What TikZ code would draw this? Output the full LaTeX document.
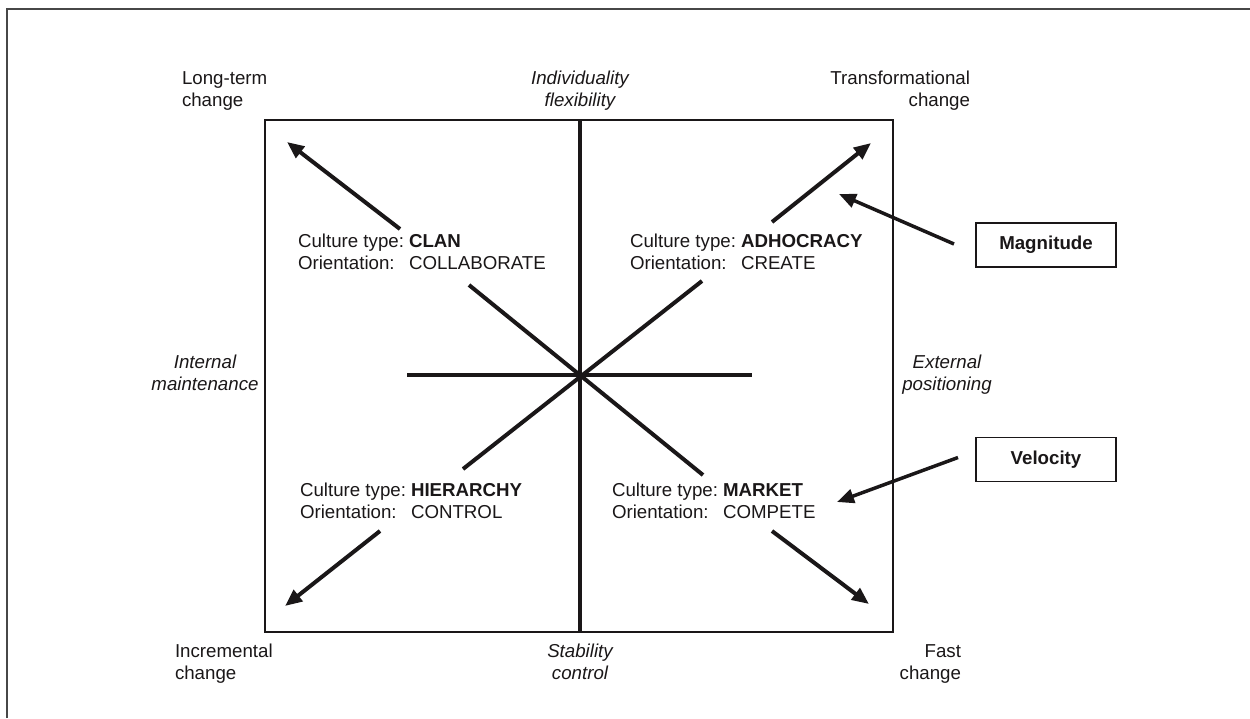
\documentclass[tikz,border=0pt]{standalone}
\usepackage{fontspec}
\setmainfont{Liberation Sans}
\usetikzlibrary{arrows.meta}
\definecolor{ink}{HTML}{1A1718}
\begin{document}
\begin{tikzpicture}[x=1pt,y=-1pt,
  every node/.style={inner sep=0pt, outer sep=0pt, text=ink, font=\fontsize{18.7}{22}\selectfont},
  lbl/.style={anchor=base west},
  rlbl/.style={anchor=base east},
  clbl/.style={anchor=base},
  axisline/.style={line width=4.5pt, draw=ink},
  arr/.style={line width=4pt, draw=ink, -{Triangle[length=17pt,width=14pt]}},
  thinarr/.style={line width=3.5pt, draw=ink, -{Triangle[length=17pt,width=14pt]}},
  keybox/.style={draw=ink, line width=1.2pt, minimum width=140pt, minimum height=44pt, font=\fontsize{18.7}{22}\selectfont\bfseries},
  framebox/.style={draw=ink, line width=1.4pt, minimum width=628pt, minimum height=512pt}]
\useasboundingbox (0,0) rectangle (1250,718);
% outer frame
\coordinate (o1) at (7,718);
\coordinate (o2) at (7,9);
\coordinate (o3) at (1250,9);
\draw[line width=2pt, draw=black!72] (o1) -- (o2) -- (o3);

% main rectangle
\node[framebox] (frame) at (579,376) {};

% axes
\coordinate (c) at (580,375);
\coordinate (hl) at (407,375);
\coordinate (hr) at (752,375);
\coordinate (ul) at (469,285);
\coordinate (ur) at (702,281);
\coordinate (ll) at (463,469);
\coordinate (lr) at (703,475);
\draw[axisline] (frame.north -| c) -- (frame.south -| c);
\draw[axisline] (hl) -- (hr);
\draw[axisline, line width=4pt] (ul) -- (lr);
\draw[axisline, line width=4pt] (ll) -- (ur);

% corner arrows
\coordinate (a1s) at (400,229); \coordinate (a1e) at (287,142);
\coordinate (a2s) at (772,222); \coordinate (a2e) at (871,143);
\coordinate (a3s) at (380,531); \coordinate (a3e) at (285,606);
\coordinate (a4s) at (772,531); \coordinate (a4e) at (869,604);
\draw[arr] (a1s) -- (a1e);
\draw[arr] (a2s) -- (a2e);
\draw[arr] (a3s) -- (a3e);
\draw[arr] (a4s) -- (a4e);

% corner labels
\node[lbl] (lt) at (182,84) {\begin{tabular}[t]{@{}l@{}}Long-term\\change\end{tabular}};
\node[clbl] (ind) at (580,84) {\itshape\begin{tabular}[t]{@{}c@{}}Individuality\\flexibility\end{tabular}};
\node[rlbl] (tr) at (970,84) {\begin{tabular}[t]{@{}r@{}}Transformational\\change\end{tabular}};
\node[clbl] (im) at (205,368) {\itshape\begin{tabular}[t]{@{}c@{}}Internal\\maintenance\end{tabular}};
\node[clbl] (ep) at (947,368) {\itshape\begin{tabular}[t]{@{}c@{}}External\\positioning\end{tabular}};
\node[lbl] (inc) at (175,657) {\begin{tabular}[t]{@{}l@{}}Incremental\\change\end{tabular}};
\node[clbl] (st) at (580,657) {\itshape\begin{tabular}[t]{@{}c@{}}Stability\\control\end{tabular}};
\node[rlbl] (fc) at (961,657) {\begin{tabular}[t]{@{}r@{}}Fast\\change\end{tabular}};

% culture types
\node[lbl] (clan) at (298,247) {\begin{tabular}[t]{@{}l@{\hspace{5pt}}l@{}}Culture type: & \textbf{CLAN}\\ Orientation: & COLLABORATE\end{tabular}};
\node[lbl] (adh) at (630,247) {\begin{tabular}[t]{@{}l@{\hspace{5pt}}l@{}}Culture type: & \textbf{ADHOCRACY}\\ Orientation: & CREATE\end{tabular}};
\node[lbl] (hier) at (300,496) {\begin{tabular}[t]{@{}l@{\hspace{5pt}}l@{}}Culture type: & \textbf{HIERARCHY}\\ Orientation: & CONTROL\end{tabular}};
\node[lbl] (mkt) at (612,496) {\begin{tabular}[t]{@{}l@{\hspace{5pt}}l@{}}Culture type: & \textbf{MARKET}\\ Orientation: & COMPETE\end{tabular}};

% key boxes
\node[keybox] (mag) at (1046,245) {Magnitude};
\node[keybox] (vel) at (1046,459.5) {Velocity};
\coordinate (magtip) at (839,194);
\coordinate (veltip) at (837,502);
\draw[thinarr] ([xshift=-22pt,yshift=1pt]mag.west) -- (magtip);
\draw[thinarr] ([xshift=-18pt,yshift=2pt]vel.west) -- (veltip);
\end{tikzpicture}
\end{document}
